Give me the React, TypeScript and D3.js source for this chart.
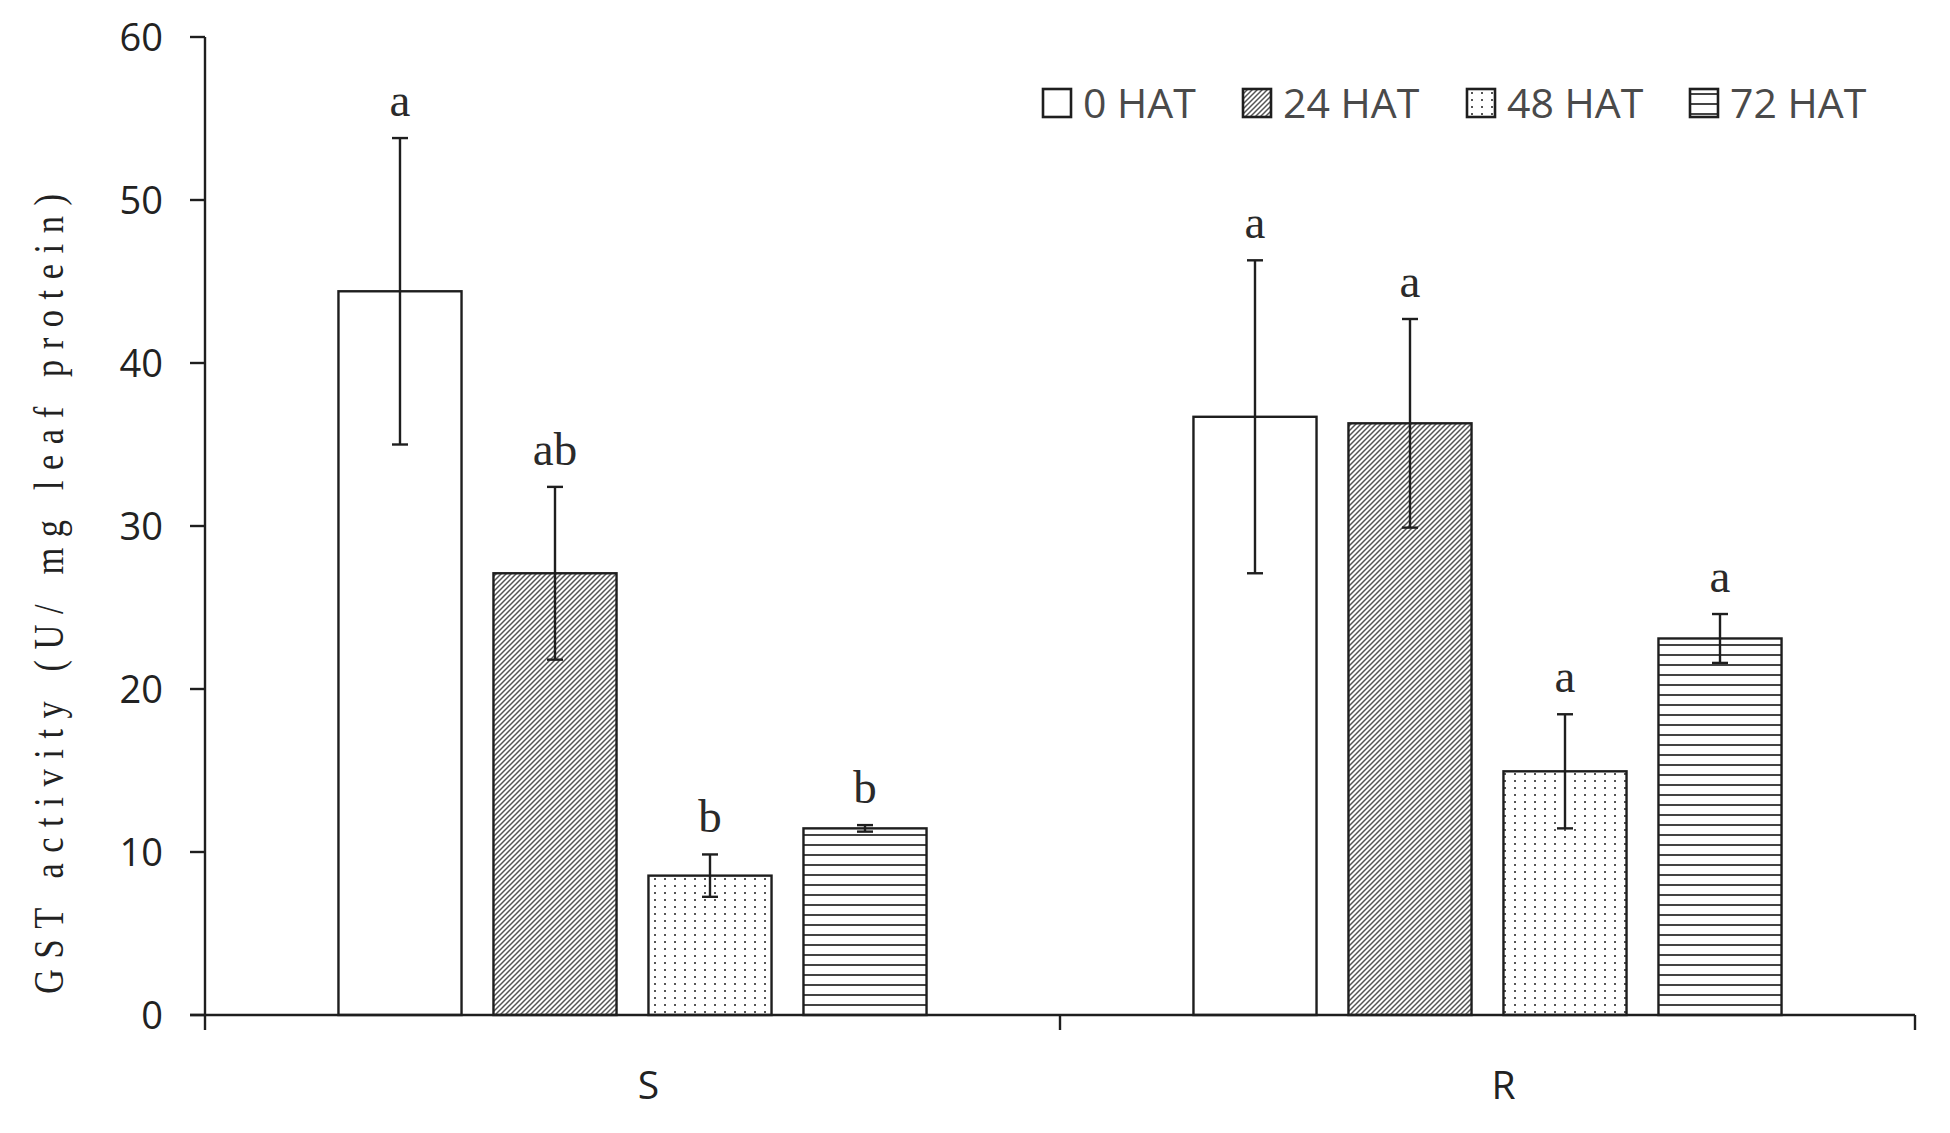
import React from "react";
import * as d3 from "d3";

// data
const categories = ["S", "R"];
const series = ["0 HAT", "24 HAT", "48 HAT", "72 HAT"];
const meanS = [44.4, 27.1, 8.55, 11.45];
const meanR = [36.7, 36.3, 14.95, 23.1];
const errS = [9.4, 5.3, 1.3, 0.2];
const errR = [9.6, 6.4, 3.5, 1.5];
const lettersS = ["a", "ab", "b", "b"];
const lettersR = ["a", "a", "a", "a"];
const yTicks = [0, 10, 20, 30, 40, 50, 60];

const W = 1950;
const H = 1133;
const M = { left: 205, right: 35, top: 37, bottom: 118 };
const INK = "#1e1e1e";
const SANS = "'Open Sans', 'DejaVu Sans', sans-serif";
const SERIF = "'Liberation Serif', 'DejaVu Serif', serif";

const fills = ["#ffffff", "url(#hatch)", "url(#dots)", "url(#hlines)"];
const legendX = [1043, 1243, 1467, 1690];

export default function App() {
  const x = d3
    .scaleBand<string>()
    .domain(categories)
    .range([M.left, W - M.right])
    .padding(0);
  const inner = d3
    .scaleBand<string>()
    .domain(series)
    .range([0, x.bandwidth()])
    .paddingInner(0.206)
    .paddingOuter(0.861);
  const y = d3.scaleLinear().domain([0, 60]).range([H - M.bottom, M.top]);

  const rows = categories.flatMap((cat, ci) =>
    series.map((s, si) => ({
      cat,
      s,
      si,
      v: ci === 0 ? meanS[si] : meanR[si],
      e: ci === 0 ? errS[si] : errR[si],
      letter: ci === 0 ? lettersS[si] : lettersR[si],
    }))
  );

  const y0 = y(0);
  const bw = inner.bandwidth();
  const xEnd = W - M.right;

  return (
    <svg
      width={W}
      height={H}
      style={{ position: "absolute", left: 0, top: 0, background: "#fff" }}
    >
      <defs>
        <pattern id="hatch" patternUnits="userSpaceOnUse" width="5" height="5">
          <rect width="5" height="5" fill="#fff" />
          <path d="M-1,1 L1,-1 M0,5 L5,0 M4,6 L6,4" stroke="#555" strokeWidth="1.5" />
        </pattern>
        <pattern id="dots" patternUnits="userSpaceOnUse" width="10" height="7">
          <rect width="10" height="7" fill="#fff" />
          <rect x="4" y="3" width="2" height="2" fill="#555" />
        </pattern>
        <pattern id="hlines" patternUnits="userSpaceOnUse" width="10" height="10">
          <rect width="10" height="10" fill="#fff" />
          <rect x="0" y="4" width="10" height="2" fill="#444" />
        </pattern>
      </defs>

      {/* bars */}
      {rows.map((d, i) => {
        const bx = (x(d.cat) as number) + (inner(d.s) as number);
        return (
          <rect
            key={"b" + i}
            x={bx}
            y={y(d.v)}
            width={bw}
            height={y0 - y(d.v)}
            fill={fills[d.si]}
            stroke={INK}
            strokeWidth={2.4}
          />
        );
      })}

      {/* error bars and letters */}
      {rows.map((d, i) => {
        const cx = (x(d.cat) as number) + (inner(d.s) as number) + bw / 2;
        const top = y(d.v + d.e);
        const bot = y(d.v - d.e);
        return (
          <g key={"e" + i} stroke={INK} strokeWidth={2.4}>
            <line x1={cx} x2={cx} y1={top} y2={bot} />
            <line x1={cx - 8} x2={cx + 8} y1={top} y2={top} />
            <line x1={cx - 8} x2={cx + 8} y1={bot} y2={bot} />
            <text
              x={cx}
              y={top - 22}
              textAnchor="middle"
              fontFamily={SERIF}
              fontSize={47}
              fill="#2a2a2a"
              stroke="none"
            >
              {d.letter}
            </text>
          </g>
        );
      })}

      {/* y axis */}
      <g stroke={INK} strokeWidth={2.4}>
        <line x1={M.left} x2={M.left} y1={y(0)} y2={y(60)} />
        {yTicks.map((t) => (
          <line key={t} x1={M.left - 15} x2={M.left} y1={y(t)} y2={y(t)} />
        ))}
      </g>
      {yTicks.map((t) => (
        <text
          key={"yl" + t}
          x={M.left - 42}
          y={y(t)}
          dy="0.36em"
          textAnchor="end"
          fontFamily={SANS}
          fontSize={38}
          fill="#222"
        >
          {t}
        </text>
      ))}

      {/* x axis */}
      <g stroke={INK} strokeWidth={2.4}>
        <line x1={M.left - 15} x2={xEnd} y1={y0} y2={y0} />
        {[M.left, ...categories.map((c) => (x(c) as number) + x.bandwidth())].map((px, i) => (
          <line key={"xt" + i} x1={px} x2={px} y1={y0} y2={y0 + 15} />
        ))}
      </g>
      {categories.map((c) => (
        <text
          key={"xl" + c}
          x={(x(c) as number) + x.bandwidth() / 2 + 16}
          y={y0 + 70}
          dy="0.36em"
          textAnchor="middle"
          fontFamily={SANS}
          fontSize={39}
          fill="#222"
        >
          {c}
        </text>
      ))}

      {/* y title */}
      <text
        transform={`translate(63, 594) rotate(-90) scale(0.82, 1)`}
        textAnchor="middle"
        fontFamily={SERIF}
        fontSize={42}
        textLength={800 / 0.82}
        lengthAdjust="spacing"
        fill="#222"
      >
        GST activity (U/ mg leaf protein)
      </text>

      {/* legend */}
      {series.map((s, i) => (
        <g key={"lg" + s} transform={`translate(${legendX[i]}, 89)`}>
          <rect
            x={0}
            y={0}
            width={28}
            height={28}
            fill={fills[i]}
            stroke={INK}
            strokeWidth={2.6}
          />
          <text
            x={40}
            y={14}
            dy="0.36em"
            fontFamily={SANS}
            fontSize={41}
            fill="#4a4a4a"
          >
            {s}
          </text>
        </g>
      ))}
    </svg>
  );
}
